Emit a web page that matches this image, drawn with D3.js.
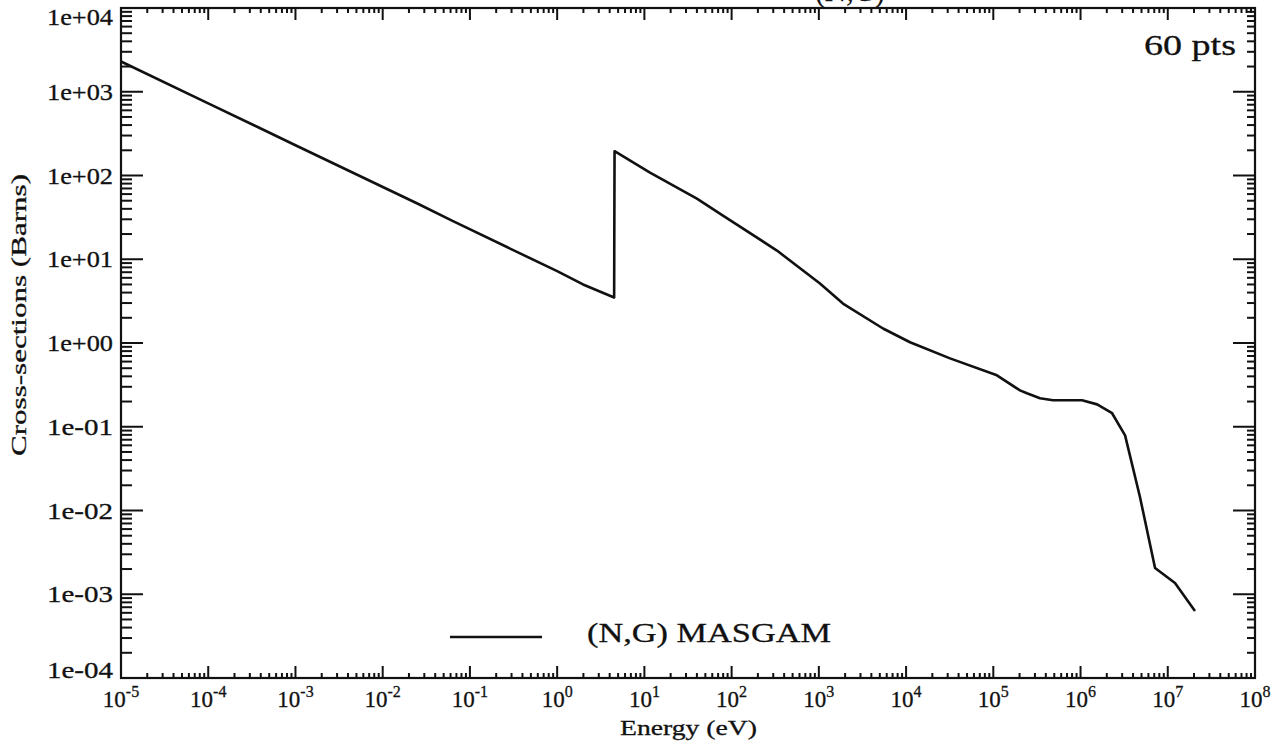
<!DOCTYPE html>
<html>
<head>
<meta charset="utf-8">
<script src="https://cdn.jsdelivr.net/npm/d3@7"></script>
<style>
  html, body { margin: 0; padding: 0; background: #fff; }
  svg text {
    font-family: "Palatino Linotype", "Book Antiqua", Palatino, "Liberation Serif", serif;
    fill: #111;
    stroke: #111;
    stroke-width: 0.3px;
  }
</style>
</head>
<body>
<div id="xs-chart"></div>
<script>
// (N,G) MASGAM capture cross-section, log-log, 60 pts file

// Energy (eV)
const energy = [
  1e-5, 1e-4, 1e-3, 0.0253, 0.064, 1, 1.98, 4.5,
  4.55, 11.6, 40, 79.6, 331, 1030, 1890, 5440, 11100, 31900,
  1.1e5, 2.02e5, 2.43e5, 3.43e5, 4.83e5, 1.04e6, 1.55e6, 2.3e6,
  3.24e6, 4.8e6, 7.15e6, 1.21e7, 2.05e7
];

// Cross-section (barns) at each energy
const xsec = [
  2300, 727, 230, 46, 28.5, 7.2, 5.0, 3.5,
  195, 108, 52.9, 33.2, 12.7, 5.13, 2.96, 1.49, 1.02, 0.655,
  0.411, 0.272, 0.251, 0.219, 0.207, 0.207, 0.185, 0.145,
  0.079, 0.0145, 0.00206, 0.00136, 0.00063
];

const xTicks = [1e-5, 1e-4, 1e-3, 1e-2, 1e-1, 1e0, 1e1, 1e2, 1e3, 1e4, 1e5, 1e6, 1e7, 1e8];
const yTicks = [1e-4, 1e-3, 1e-2, 1e-1, 1e0, 1e1, 1e2, 1e3, 1e4];

const legendLabel = "(N,G) MASGAM";
const pointsLabel = "60 pts";
const titleLabel = "(N,G)";

(function () {
  const W = 1287, H = 746;
  const left = 121, right = 1255, top = 8, bottom = 678;

  const svg = d3.select("#xs-chart")
    .append("svg")
    .attr("width", W)
    .attr("height", H);

  const x = d3.scaleLog().domain([1e-5, 1e8]).range([left, right]);
  const y = d3.scaleLog().domain([1e-4, 1e4]).range([bottom, top]);

  // minor ticks 2..9 inside each decade
  const minorsOf = majors => {
    const out = [];
    majors.slice(0, -1).forEach(m => {
      for (let k = 2; k <= 9; k++) out.push(m * k);
    });
    return out;
  };
  const xMinor = minorsOf(xTicks);
  const yMinor = minorsOf(yTicks);

  // ---------- ticks, all pointing inwards ----------
  const tickLayer = svg.append("g");

  function vTicks(values, y0, len, cls) {
    tickLayer.selectAll(`line.${cls}`)
      .data(values)
      .enter()
      .append("line")
      .attr("class", cls)
      .attr("x1", d => x(d))
      .attr("x2", d => x(d))
      .attr("y1", y0)
      .attr("y2", y0 + len)
      .style("stroke", "#111")
      .style("stroke-width", "2px");
  }

  function hTicks(values, x0, len, cls) {
    tickLayer.selectAll(`line.${cls}`)
      .data(values)
      .enter()
      .append("line")
      .attr("class", cls)
      .attr("y1", d => y(d))
      .attr("y2", d => y(d))
      .attr("x1", x0)
      .attr("x2", x0 + len)
      .style("stroke", "#111")
      .style("stroke-width", "2px");
  }

  vTicks(xMinor, bottom, -5, "xb-minor");
  vTicks(xTicks, bottom, -12, "xb-major");
  vTicks(xMinor, top, 5, "xt-minor");
  vTicks(xTicks, top, 12, "xt-major");
  hTicks(yMinor, left, 11, "yl-minor");
  hTicks(yTicks, left, 22, "yl-major");
  hTicks(yMinor, right, -8, "yr-minor");
  hTicks(yTicks, right, -22, "yr-major");

  // frame
  svg.append("rect")
    .attr("x", left)
    .attr("y", top)
    .attr("width", right - left)
    .attr("height", bottom - top)
    .attr("fill", "none")
    .attr("stroke", "#111")
    .attr("stroke-width", 2.2);

  // ---------- tick labels ----------
  const expOf = d => Math.round(Math.log10(d));

  // x: 10 with a superscript exponent
  const xLab = svg.selectAll(".x-label")
    .data(xTicks)
    .enter()
    .append("text")
    .attr("class", "x-label")
    .attr("x", d => x(d))
    .attr("y", 707)
    .attr("text-anchor", "middle")
    .style("font-size", "23px");

  xLab.append("tspan").text("10");
  xLab.append("tspan")
    .attr("dy", -10)
    .style("font-size", "16px")
    .text(d => expOf(d));

  // y: 1e+04 style; end labels nudged inside the frame like the original
  svg.selectAll(".y-label")
    .data(yTicks)
    .enter()
    .append("text")
    .attr("class", "y-label")
    .attr("x", 113)
    .attr("y", (d, i) => {
      if (i === 0) return y(d);
      if (i === yTicks.length - 1) return y(d) + 17;
      return y(d) + 8;
    })
    .attr("text-anchor", "end")
    .attr("textLength", 66)
    .attr("lengthAdjust", "spacingAndGlyphs")
    .style("font-size", "23px")
    .text(d => {
      const e = expOf(d);
      return "1e" + (e < 0 ? "-" : "+") + String(Math.abs(e)).padStart(2, "0");
    });

  // ---------- axis titles ----------
  svg.append("text")
    .attr("x", 620)
    .attr("y", 735)
    .attr("textLength", 137)
    .attr("lengthAdjust", "spacingAndGlyphs")
    .style("font-size", "21px")
    .text("Energy (eV)");

  svg.append("text")
    .attr("transform", "translate(26,456) rotate(-90)")
    .attr("textLength", 282)
    .attr("lengthAdjust", "spacingAndGlyphs")
    .style("font-size", "21px")
    .text("Cross-sections (Barns)");

  // title, mostly cut off at the top edge
  svg.append("text")
    .attr("x", 850)
    .attr("y", 1)
    .attr("text-anchor", "middle")
    .attr("textLength", 70)
    .attr("lengthAdjust", "spacingAndGlyphs")
    .style("font-size", "34px")
    .text(titleLabel);

  svg.append("text")
    .attr("x", 1144)
    .attr("y", 55)
    .attr("textLength", 92)
    .attr("lengthAdjust", "spacingAndGlyphs")
    .style("font-size", "29px")
    .text(pointsLabel);

  // ---------- the curve ----------
  const rows = energy.map((e, i) => ({ e, s: xsec[i] }));

  const line = d3.line()
    .x(d => x(d.e))
    .y(d => y(d.s));

  svg.append("path")
    .datum(rows)
    .attr("fill", "none")
    .attr("stroke", "#111")
    .attr("stroke-width", 2.6)
    .attr("stroke-linejoin", "round")
    .attr("d", line);

  // ---------- legend ----------
  svg.append("line")
    .attr("x1", 450)
    .attr("x2", 542)
    .attr("y1", 637)
    .attr("y2", 637)
    .attr("stroke", "#111")
    .attr("stroke-width", 2.6);

  svg.append("text")
    .attr("x", 587)
    .attr("y", 642)
    .attr("textLength", 244)
    .attr("lengthAdjust", "spacingAndGlyphs")
    .style("font-size", "28px")
    .text(legendLabel);
})();
</script>
</body>
</html>
